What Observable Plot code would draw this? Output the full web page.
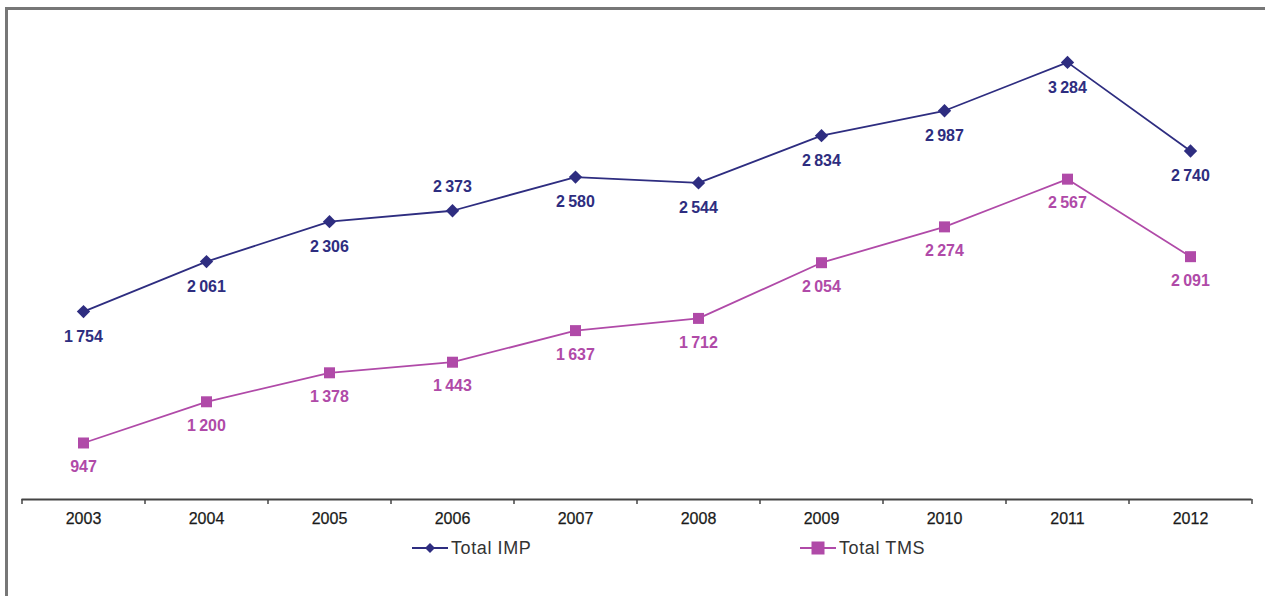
<!DOCTYPE html>
<html>
<head>
<meta charset="utf-8">
<script src="https://cdn.jsdelivr.net/npm/d3@7"></script>
<script src="https://cdn.jsdelivr.net/npm/@observablehq/plot@0.6"></script>
<style>
  html, body { margin: 0; padding: 0; background: #fff; }
  body { width: 1265px; height: 596px; position: relative; overflow: hidden; font-family: "Liberation Sans", Arial, sans-serif; }
  #frame { position: absolute; left: 5px; top: 7px; width: 1400px; height: 800px; border-left: 3px solid #777; border-top: 3px solid #777; box-sizing: border-box; }
  #chart { position: absolute; left: 0; top: 0; }
  #legend { position: absolute; top: 536px; left: 0; width: 1265px; height: 24px; font-size: 18px; color: #333; letter-spacing: 0.6px; }
  .item { position: absolute; top: 0; display: flex; align-items: center; height: 24px; }
  .item svg { margin-right: 3px; }
</style>
</head>
<body>
<div id="frame"></div>
<div id="chart"></div>
<div id="legend"></div>
<script>
const years = [2003, 2004, 2005, 2006, 2007, 2008, 2009, 2010, 2011, 2012];
const totalIMP = [1754, 2061, 2306, 2373, 2580, 2544, 2834, 2987, 3284, 2740];
const totalTMS = [947, 1200, 1378, 1443, 1637, 1712, 2054, 2274, 2567, 2091];
const imPLabelAbove = [false, false, false, true, false, false, false, false, false, false];
const seriesNames = ["Total IMP", "Total TMS"];
const colors = {"Total IMP": "#2e2d80", "Total TMS": "#b04aa8"};

const imp = years.map((y, i) => ({year: y, value: totalIMP[i], series: "Total IMP", above: imPLabelAbove[i]}));
const tms = years.map((y, i) => ({year: y, value: totalTMS[i], series: "Total TMS", above: false}));

const fmt = v => v >= 1000 ? `${Math.floor(v / 1000)}\u2009${String(v % 1000).padStart(3, "0")}` : String(v);

const W = 1265, H = 530;
const mL = 21.5, mR = 13.5;
const step = (W - mL - mR) / years.length;
const yBase = 600;

const plot = Plot.plot({
  width: W,
  height: H,
  marginLeft: mL,
  marginRight: mR,
  marginTop: 43,
  marginBottom: 31,
  style: {fontFamily: "Liberation Sans, Arial, sans-serif", background: "transparent"},
  x: {type: "point", domain: years, padding: 0.5, axis: null},
  y: {domain: [yBase, 3400], axis: null},
  marks: [
    Plot.ruleY([yBase], {stroke: "#444", strokeWidth: 2}),
    Plot.ruleX(years, {x: d => d, dx: -step / 2, y1: yBase, y2: yBase - 30, stroke: "#444", strokeWidth: 1.5}),
    Plot.ruleX([years[years.length - 1]], {x: d => d, dx: step / 2, y1: yBase, y2: yBase - 30, stroke: "#444", strokeWidth: 1.5}),
    Plot.text(years, {x: d => d, y: yBase, dy: 19, text: d => String(d), fontSize: 16, fill: "#1a1a1a", stroke: "#1a1a1a", strokeWidth: 0.25}),
    Plot.line(imp, {x: "year", y: "value", stroke: colors["Total IMP"], strokeWidth: 1.8}),
    Plot.line(tms, {x: "year", y: "value", stroke: colors["Total TMS"], strokeWidth: 1.8}),
    Plot.dot(imp, {x: "year", y: "value", symbol: "diamond2", r: 6, fill: colors["Total IMP"], stroke: null}),
    Plot.dot(tms, {x: "year", y: "value", symbol: "square2", r: 7, fill: colors["Total TMS"], stroke: null}),
    Plot.text(imp, {x: "year", y: "value", text: d => fmt(d.value), fill: colors["Total IMP"], fontSize: 16, fontWeight: "bold", filter: d => !d.above, dy: 25}),
    Plot.text(imp, {x: "year", y: "value", text: d => fmt(d.value), fill: colors["Total IMP"], fontSize: 16, fontWeight: "bold", filter: d => d.above, dy: -24}),
    Plot.text(tms, {x: "year", y: "value", text: d => fmt(d.value), fill: colors["Total TMS"], fontSize: 16, fontWeight: "bold", dy: 24})
  ]
});
document.getElementById("chart").appendChild(plot);

// legend
const legend = document.getElementById("legend");
const legendX = [412, 800];
seriesNames.forEach((name, i) => {
  const item = document.createElement("div");
  item.className = "item";
  item.style.left = legendX[i] + "px";
  const c = colors[name];
  const marker = i === 0
    ? `<path d="M18,7 L23,12 L18,17 L13,12 Z" fill="${c}"/>`
    : `<rect x="11.5" y="5.5" width="13" height="13" fill="${c}"/>`;
  item.innerHTML = `<svg width="36" height="24"><line x1="0" x2="36" y1="12" y2="12" stroke="${c}" stroke-width="2"/>${marker}</svg><span>${name}</span>`;
  legend.appendChild(item);
});
</script>
</body>
</html>
